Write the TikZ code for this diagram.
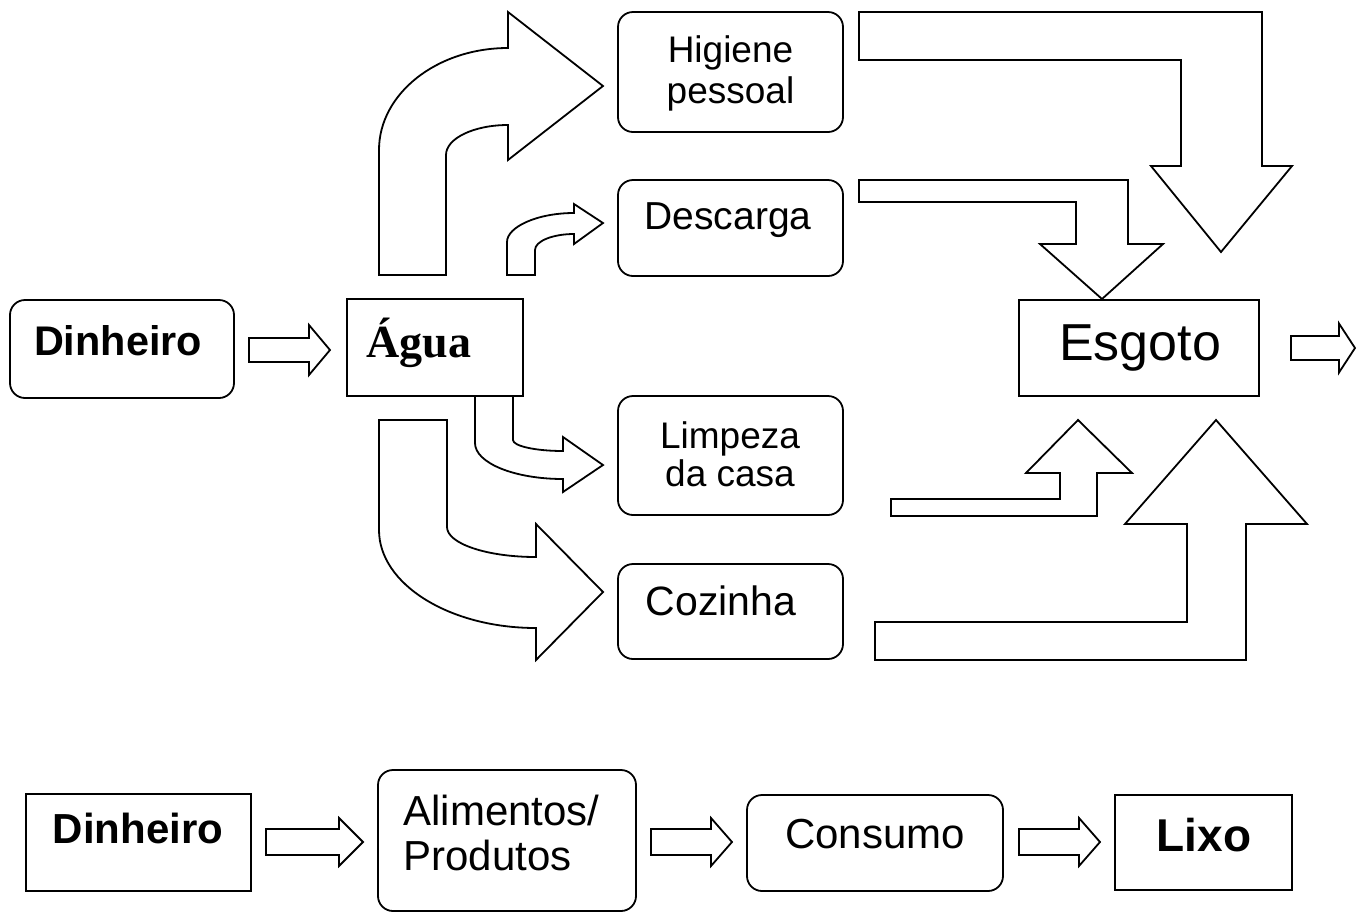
\documentclass[tikz,border=0pt]{standalone}
\usepackage{fontspec}
\setmainfont{Liberation Sans}
\newfontfamily\aguafont{Liberation Serif}

\newcommand{\setfs}[2]{\fontsize{#1}{#2}\selectfont}
% straight block arrow: x start, x head, x tip, y centre, half shaft, half head
\newcommand{\harrow}[6]{%
  \draw[blk] (#1,{#4-#5}) -- (#2,{#4-#5}) -- (#2,{#4-#6}) -- (#3,#4)
    -- (#2,{#4+#6}) -- (#2,{#4+#5}) -- (#1,{#4+#5}) -- cycle;}

\tikzset{
  box/.style={draw, line width=0.9pt, inner sep=0pt},
  rbox/.style={box, rounded corners=7.5pt},
  blk/.style={draw, line width=0.9pt, line join=miter},
  txt/.style={inner sep=0pt, anchor=base},
  mtxt/.style={inner sep=0pt},
}

\begin{document}
\begin{tikzpicture}[x=0.5pt, y=-0.5pt]
\useasboundingbox (0,0) rectangle (1357,912);
% Water boxes
\node[rbox, minimum width=112pt, minimum height=49pt] (dinA) at (122,349) {};
\node[box, minimum width=88pt, minimum height=48.5pt] (agua) at (435,347.5) {};
\node[rbox, minimum width=112.5pt, minimum height=60pt] (hig) at (730.5,72) {};
\node[rbox, minimum width=112.5pt, minimum height=48pt] (desc) at (730.5,228) {};
\node[rbox, minimum width=112.5pt, minimum height=59.5pt] (limp) at (730.5,455.5) {};
\node[rbox, minimum width=112.5pt, minimum height=47.5pt] (coz) at (730.5,611.5) {};
\node[box, minimum width=120pt, minimum height=48pt] (esg) at (1139,348) {};
% Water texts
\node[txt, font={\setfs{20.7pt}{24pt}\bfseries}] (dinA-t) at (118,355.5) {Dinheiro};
\node[txt, font={\aguafont\setfs{23pt}{26pt}\bfseries}] (agua-t) at (419,357) {Água};
\node[mtxt, align=center, font={\setfs{18.5pt}{20.5pt}}] (hig-t) at (730.5,73) {Higiene\\pessoal};
\node[txt, font={\setfs{19.5pt}{22pt}}] (desc-t) at (728,229.3) {Descarga};
\node[mtxt, align=center, font={\setfs{18.5pt}{19.2pt}}] (limp-t) at (730,454.3) {Limpeza\\da casa};
\node[txt, font={\setfs{20.5pt}{23pt}}] (coz-t) at (721,615) {Cozinha};
\node[txt, font={\setfs{26pt}{30pt}}] (esg-t) at (1140,360) {Esgoto};
% Water arrows
\harrow{249}{309}{330}{350}{12}{25}
\harrow{1291}{1339}{1355}{348}{12}{24.5}
\draw[blk] (379,275) -- (379,150) .. controls (379,93.7) and (436.8,48) .. (508,48)
  -- (508,12) -- (603,86) -- (508,160) -- (508,125)
  .. controls (473.8,125) and (446,138.4) .. (446,155) -- (446,275) -- cycle;
\draw[blk] (507,275) -- (507,242) .. controls (507,227) and (537,213) .. (574,213)
  -- (574,204) -- (603,223) -- (574,244) -- (574,234)
  .. controls (552.5,234) and (535,241.2) .. (535,250) -- (535,275) -- cycle;
\draw[blk] (475,396) -- (475,443) .. controls (475,463) and (514.4,479) .. (563,479)
  -- (563,492) -- (603,465) -- (563,437) -- (563,451)
  .. controls (535.4,451) and (513,446) .. (513,440) -- (513,396) -- cycle;
\draw[blk] (379,420) -- (379,530) .. controls (379,584.1) and (449.3,628) .. (536,628)
  -- (536,660) -- (603,592) -- (536,524) -- (536,557)
  .. controls (486.8,557) and (447,543.6) .. (447,527) -- (447,420) -- cycle;
\draw[blk] (859,12) -- (1262,12) -- (1262,166) -- (1292,166) -- (1221,252)
  -- (1151,166) -- (1181,166) -- (1181,60) -- (859,60) -- cycle;
\draw[blk] (859,180) -- (1128,180) -- (1128,244) -- (1163,244) -- (1102,299)
  -- (1040,244) -- (1076,244) -- (1076,202) -- (859,202) -- cycle;
\draw[blk] (891,499) -- (1060,499) -- (1060,473) -- (1026,473) -- (1078,420)
  -- (1132,473) -- (1097,473) -- (1097,516) -- (891,516) -- cycle;
\draw[blk] (875,622) -- (1187,622) -- (1187,524) -- (1125,524) -- (1216,420)
  -- (1307,524) -- (1246,524) -- (1246,660) -- (875,660) -- cycle;
% Food chain
\node[box, minimum width=112.5pt, minimum height=48.5pt] (dinB) at (138.5,842.5) {};
\node[rbox, minimum width=129pt, minimum height=70.5pt] (alim) at (507,840.5) {};
\node[rbox, minimum width=128pt, minimum height=48pt] (cons) at (875,843) {};
\node[box, minimum width=88.5pt, minimum height=47.5pt] (lixo) at (1203.5,842.5) {};
\node[txt, font={\setfs{21pt}{24pt}\bfseries}] (dinB-t) at (138,843) {Dinheiro};
\node[mtxt, align=left, anchor=west, font={\setfs{21pt}{22.5pt}}] (alim-t) at (403,832.5) {Alimentos/\\Produtos};
\node[txt, font={\setfs{21pt}{24pt}}] (cons-t) at (875,848) {Consumo};
\node[txt, font={\setfs{23pt}{26pt}\bfseries}] (lixo-t) at (1204,851.7) {Lixo};
\harrow{266}{339}{363}{842}{13}{24}
\harrow{651}{711}{732}{842}{13}{24}
\harrow{1019}{1079}{1100}{842}{13}{24}
\end{tikzpicture}
\end{document}
